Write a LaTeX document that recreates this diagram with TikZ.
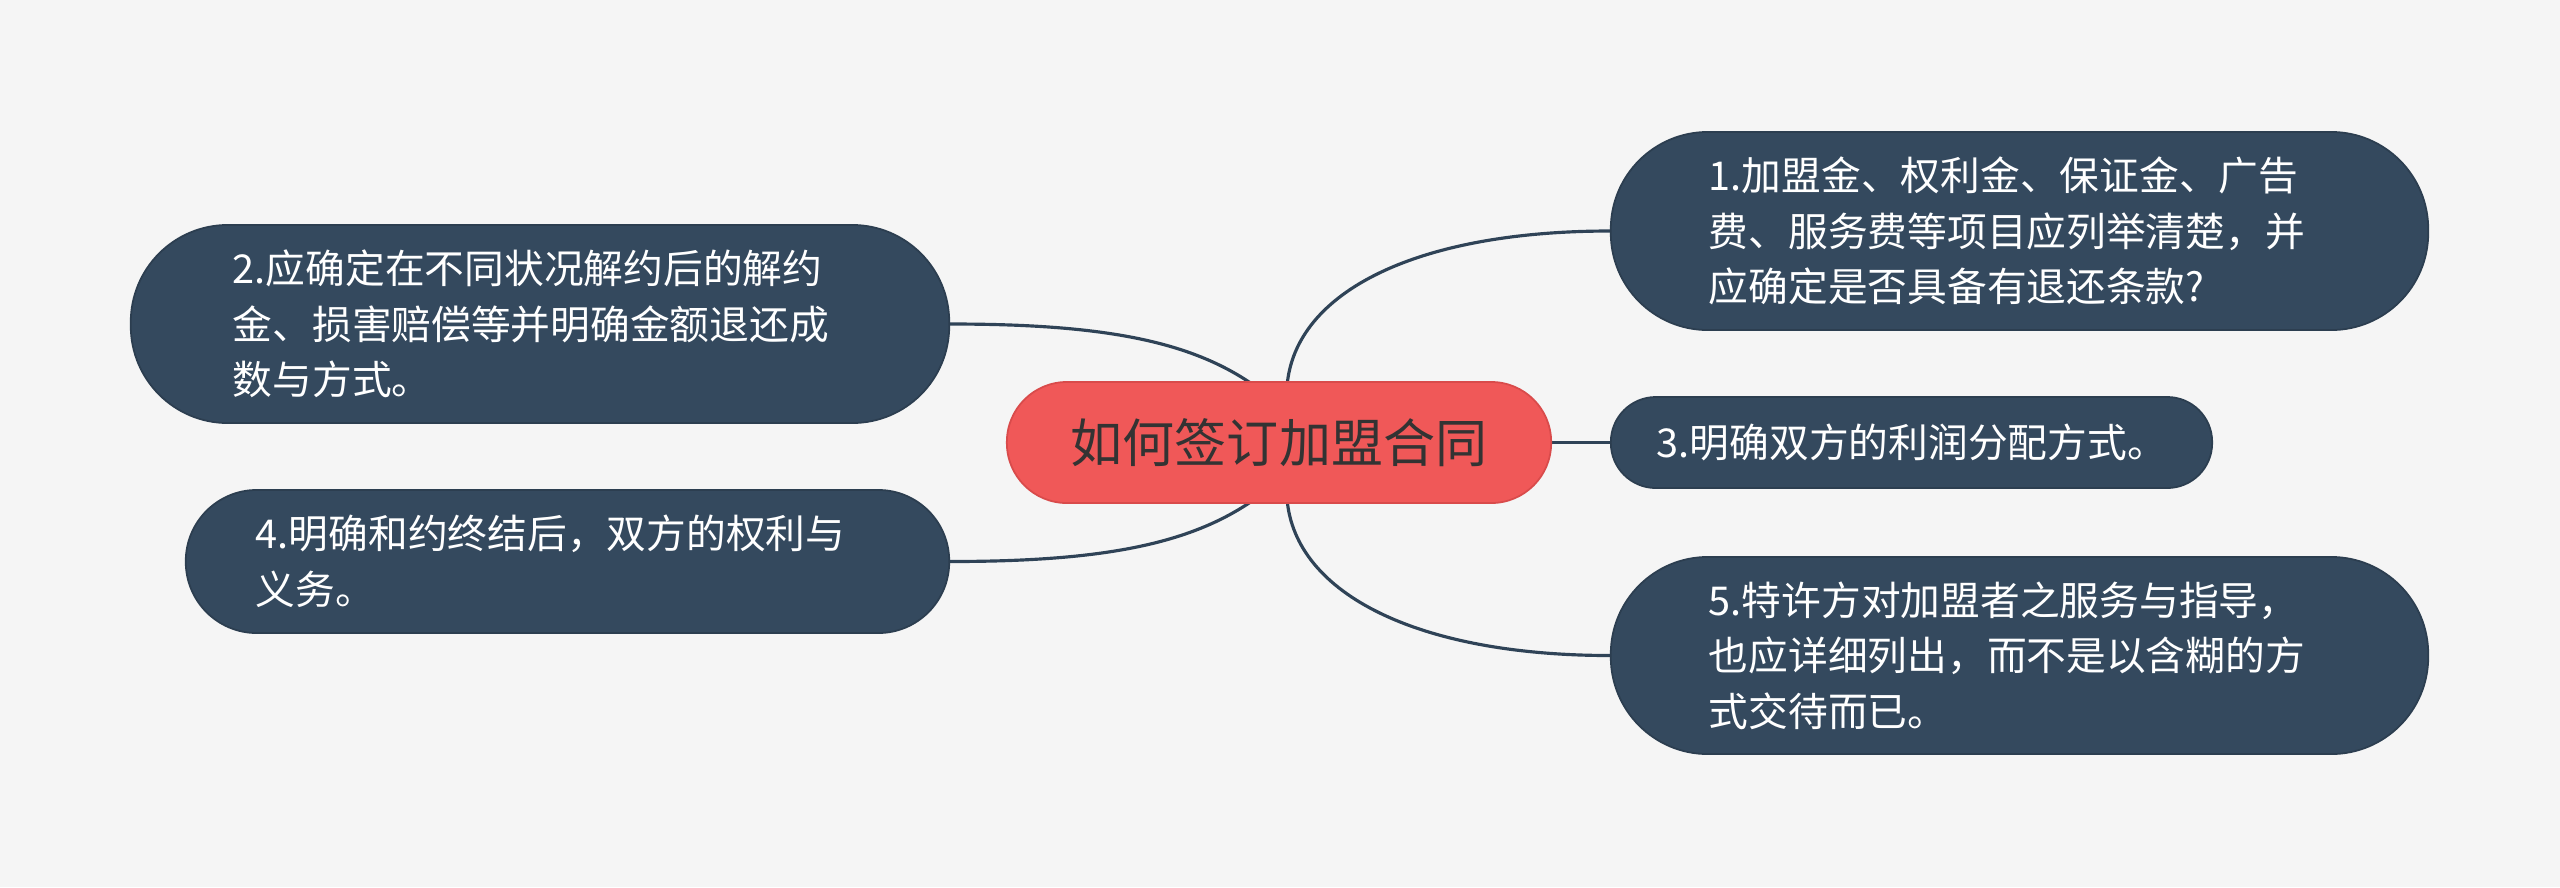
\documentclass[tikz,border=0pt]{standalone}
\usepackage{fontspec}
\newfontfamily\cjk{Noto Sans CJK SC}
\usetikzlibrary{backgrounds}
\definecolor{bgc}{HTML}{F5F5F5}
\definecolor{darkfill}{HTML}{34495E}
\definecolor{darkbord}{HTML}{2C3E50}
\definecolor{linec}{HTML}{2F4357}
\definecolor{cred}{HTML}{F05858}
\definecolor{credb}{HTML}{D94B4B}
\definecolor{ctext}{HTML}{333333}
\tikzset{
  topic/.style={draw=darkbord, line width=0.5pt, fill=darkfill, text=white,
    font=\cjk\fontsize{11.3pt}{15.8pt}\selectfont, align=left, inner ysep=0pt},
  centre/.style={draw=credb, line width=0.5pt, fill=cred, text=ctext,
    font=\cjk\fontsize{14.8pt}{18pt}\selectfont, align=center,
    minimum width=5.44cm, minimum height=1.21cm, rounded corners=0.6cm, inner sep=0pt},
  link/.style={draw=linec, line width=0.9pt}
}
\begin{document}
\begin{tikzpicture}[x=0.01cm,y=-0.01cm]
\begin{scope}[on background layer]
\fill[bgc] (0,0) rectangle (2560,887);
\end{scope}
\useasboundingbox (0,0) rectangle (2560,887);

\node[centre] (c) at (1279,442.5) {如何签订加盟合同};

\node[topic, text width=6.21cm, inner xsep=0.98cm, minimum height=1.98cm, rounded corners=0.97cm] (n1) at (2019.5,231)
  {1.加盟金、权利金、保证金、广告\\费、服务费等项目应列举清楚，并\\应确定是否具备有退还条款?};
\node[topic, text width=6.14cm, inner xsep=1.02cm, minimum height=1.98cm, rounded corners=0.97cm] (n2) at (540,324)
  {2.应确定在不同状况解约后的解约\\金、损害赔偿等并明确金额退还成\\数与方式。};
\node[topic, text width=5.09cm, inner xsep=0.46cm, minimum height=0.91cm, rounded corners=0.45cm] (n3) at (1911.5,442.5)
  {3.明确双方的利润分配方式。};
\node[topic, text width=6.23cm, inner xsep=0.70cm, minimum height=1.43cm, rounded corners=0.71cm] (n4) at (567.5,561.5)
  {4.明确和约终结后，双方的权利与\\义务。};
\node[topic, text width=6.21cm, inner xsep=0.98cm, minimum height=1.97cm, rounded corners=0.97cm] (n5) at (2019.5,655.5)
  {5.特许方对加盟者之服务与指导，\\也应详细列出，而不是以含糊的方\\式交待而已。};

\begin{scope}[on background layer]
\draw[link] ([xshift=0.08cm,yshift=-0.05cm]c.north) .. controls (1295,290) and (1420,231) .. (n1.west);
\draw[link] ([xshift=0.08cm,yshift=0.05cm]c.south) .. controls (1295,595) and (1420,655.5) .. (n5.west);
\draw[link] ([xshift=-0.24cm,yshift=-0.05cm]c.north) .. controls (1190,340) and (1100,324) .. (n2.east);
\draw[link] ([xshift=-0.24cm,yshift=0.05cm]c.south) .. controls (1190,545) and (1100,561.5) .. (n4.east);
\draw[link] (c.east) -- (n3.west);
\end{scope}
\end{tikzpicture}
\end{document}
